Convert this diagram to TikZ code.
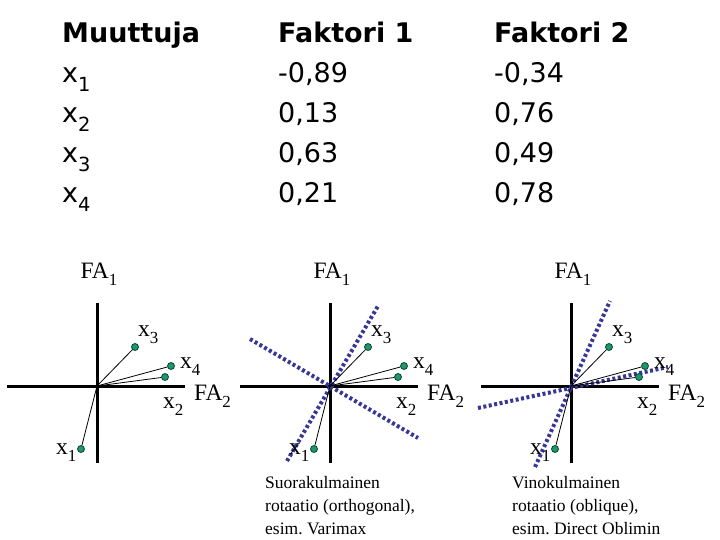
\documentclass[tikz,border=0pt]{standalone}
\usepackage{fontspec}
\setmainfont{Liberation Serif}
\newfontfamily\tablefont{DejaVu Sans}
\usetikzlibrary{positioning}
\frenchspacing
\definecolor{loadgreen}{RGB}{30,150,110}
\definecolor{dotgreen}{RGB}{10,70,50}
\definecolor{rotblue}{RGB}{55,55,150}
\newcommand\lowidx[1]{\raisebox{-0.32em}{\scalebox{0.72}{#1}}}
\tikzset{
	faxis/.style={
		line width=3pt
	},
	loading/.style={
		line width=0.8pt
	},
	varpoint/.style={
		circle,
		draw=dotgreen, fill=loadgreen,
		line width=0.8pt,
		minimum size=7pt,
		inner sep=0pt
	},
	rotaxis/.style={
		rotblue,
		line width=4pt,
		dash pattern=on 3pt off 2.5pt
	},
	axislabel/.style={
		anchor=base west,
		inner sep=0pt,
		font=\fontsize{23.5}{23.5}\selectfont
	},
	cell/.style={
		anchor=base west,
		inner sep=0pt,
		font=\tablefont\fontsize{27}{27}\selectfont
	},
	rotcaption/.style={
		anchor=north west,
		align=left,
		inner sep=0pt,
		font=\fontsize{17.5}{23}\selectfont
	}
}
\begin{document}
\begin{tikzpicture}[x=1pt,y=-1pt]
	\useasboundingbox (0,0) rectangle (720,540);

	%%% Table
	%% Header
	\node at (62,43) [cell] (muuttuja) {\bfseries Muuttuja};
	\node at (278,43) [cell] (faktori1) {\bfseries Faktori 1};
	\node at (494,43) [cell] (faktori2) {\bfseries Faktori 2};

	%% Rows
	\node at (62,83) [cell] (var1) {x\lowidx{1}};
	\node at (278,83) [cell] (fa1x1) {-0,89};
	\node at (494,83) [cell] (fa2x1) {-0,34};
	\node at (62,123) [cell] (var2) {x\lowidx{2}};
	\node at (278,123) [cell] (fa1x2) {0,13};
	\node at (494,123) [cell] (fa2x2) {0,76};
	\node at (62,163) [cell] (var3) {x\lowidx{3}};
	\node at (278,163) [cell] (fa1x3) {0,63};
	\node at (494,163) [cell] (fa2x3) {0,49};
	\node at (62,203) [cell] (var4) {x\lowidx{4}};
	\node at (278,203) [cell] (fa1x4) {0,21};
	\node at (494,203) [cell] (fa2x4) {0,78};

	%%% Plots
	%% Axes
	\foreach \d/\sx in {a/0,b/233,c/474}{
		\begin{scope}[xshift=\sx pt]
			\coordinate (\d-top) at (97,303);
			\coordinate (\d-bottom) at (97,463);
			\coordinate (\d-left) at (7,386);
			\coordinate (\d-right) at (185,386);
			\draw[faxis] (\d-top) -- (\d-bottom);
			\draw[faxis] (\d-left) -- (\d-right);
			\node at (99,278) [axislabel,anchor=base] (\d-fa1) {FA\lowidx{1}};
			\node at (194,400) [axislabel] (\d-fa2) {FA\lowidx{2}};
		\end{scope}
	}

	%% Rotated axes
	\coordinate (b-r1s) at (287,461);
	\coordinate (b-r1e) at (378,306);
	\coordinate (b-r2s) at (250,339);
	\coordinate (b-r2e) at (418,438);
	\draw[rotaxis] (b-r1s) -- (b-r1e);
	\draw[rotaxis] (b-r2s) -- (b-r2e);

	\coordinate (c-r1s) at (535,467);
	\coordinate (c-r1e) at (610,301);
	\coordinate (c-r2s) at (478,408);
	\coordinate (c-r2e) at (668,367);
	\draw[rotaxis] (c-r1s) -- (c-r1e);
	\draw[rotaxis] (c-r2s) -- (c-r2e);

	%% Loadings
	\foreach \d/\sx in {a/0,b/233,c/474}{
		\begin{scope}[xshift=\sx pt]
			\coordinate (\d-o) at (97,386);
			\node at (81,449) [varpoint] (\d-x1) {};
			\node at (165,377) [varpoint] (\d-x2) {};
			\node at (135,347) [varpoint] (\d-x3) {};
			\node at (171,366) [varpoint] (\d-x4) {};
			\draw[loading] (\d-o) -- (\d-x1);
			\draw[loading] (\d-o) -- (\d-x2);
			\draw[loading] (\d-o) -- (\d-x3);
			\draw[loading] (\d-o) -- (\d-x4);
			\node at (56,454) [axislabel] (\d-l1) {x\lowidx{1}};
			\node at (163,408) [axislabel] (\d-l2) {x\lowidx{2}};
			\node at (138,336) [axislabel] (\d-l3) {x\lowidx{3}};
			\node at (180,368) [axislabel] (\d-l4) {x\lowidx{4}};
		\end{scope}
	}

	%%% Captions
	\node at (265,476) [rotcaption] (orthogonal) {Suorakulmainen\\rotaatio (orthogonal),\\esim. Varimax};
	\node at (512,476) [rotcaption] (oblique) {Vinokulmainen\\rotaatio (oblique),\\esim. Direct Oblimin};
\end{tikzpicture}
\end{document}
